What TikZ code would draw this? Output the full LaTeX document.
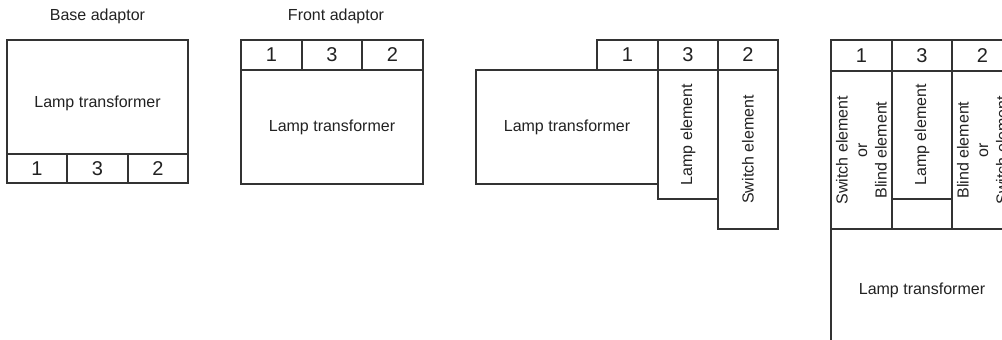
\documentclass[tikz,border=0pt]{standalone}
\usepackage{fontspec}
\setmainfont{Liberation Sans}
\definecolor{linec}{HTML}{333333}
\definecolor{textc}{HTML}{222222}
\begin{document}
\begin{tikzpicture}[x=1pt,y=-1pt,
  box/.style={draw=linec, line width=1.2pt, inner sep=0pt, outer sep=0pt, anchor=north west, text=textc, font=\fontsize{16}{19.5}\selectfont},
  numbox/.style={box, font=\fontsize{20}{24}\selectfont},
  lbl/.style={inner sep=0pt, text=textc, font=\fontsize{16}{19.5}\selectfont},
  vlbl/.style={lbl, rotate=90, align=center}]
\clip (0,0) rectangle (1002,340);
\fill[white] (0,0) rectangle (1002,340);
% Diagram 1: Base adaptor
\node[lbl] (t1) at (97.5,16.5) {Base adaptor};
\node[box, minimum width=181pt, minimum height=114pt] (lt1) at (7,40) {};
\node[lbl] (lt1t) at (97.5,103) {Lamp transformer};
\node[numbox, minimum width=60pt, minimum height=29pt] (b1) at (7,154) {1};
\node[numbox, minimum width=61pt, minimum height=29pt] (b3) at (67,154) {3};
\node[numbox, minimum width=60pt, minimum height=29pt] (b2) at (128,154) {2};
% Diagram 2: Front adaptor
\node[lbl] (t2) at (336,16.5) {Front adaptor};
\node[numbox, minimum width=61pt, minimum height=30pt] (f1) at (241,40) {1};
\node[numbox, minimum width=60pt, minimum height=30pt] (f3) at (302,40) {3};
\node[numbox, minimum width=61pt, minimum height=30pt] (f2) at (362,40) {2};
\node[box, minimum width=182pt, minimum height=114pt] (lt2) at (241,70) {Lamp transformer};
% Diagram 3
\node[numbox, minimum width=61pt, minimum height=30pt] (c1) at (597,40) {1};
\node[numbox, minimum width=60pt, minimum height=30pt] (c3) at (658,40) {3};
\node[numbox, minimum width=60pt, minimum height=30pt] (c2) at (718,40) {2};
\node[box, minimum width=182pt, minimum height=114pt] (lt3) at (476,70) {Lamp transformer};
\node[box, minimum width=60pt, minimum height=129pt] (le3) at (658,70) {};
\node[vlbl] (le3t) at (le3.center) {Lamp element};
\node[box, minimum width=60pt, minimum height=159pt] (se3) at (718,70) {};
\node[vlbl] (se3t) at (se3.center) {Switch element};
% Diagram 4
\node[numbox, minimum width=61pt, minimum height=31pt] (d1) at (831,40) {1};
\node[numbox, minimum width=60pt, minimum height=31pt] (d3) at (892,40) {3};
\node[numbox, minimum width=61pt, minimum height=31pt] (d2) at (952,40) {2};
\node[box, minimum width=61pt, minimum height=158pt] (col1) at (831,71) {};
\node[vlbl] (col1t) at (col1.center) {Switch element\\or\\Blind element};
\node[box, minimum width=60pt, minimum height=158pt] (col3) at (892,71) {};
\node[box, minimum width=60pt, minimum height=128pt] (le4) at (892,71) {};
\node[vlbl] (le4t) at (le4.center) {Lamp element};
\node[box, minimum width=61pt, minimum height=158pt] (col2) at (952,71) {};
\node[vlbl] (col2t) at (col2.center) {Blind element\\or\\Switch element};
\node[box, minimum width=182pt, minimum height=130pt] (lt4) at (831,229) {};
\node[lbl] (lt4t) at (922,290) {Lamp transformer};
\end{tikzpicture}
\end{document}
